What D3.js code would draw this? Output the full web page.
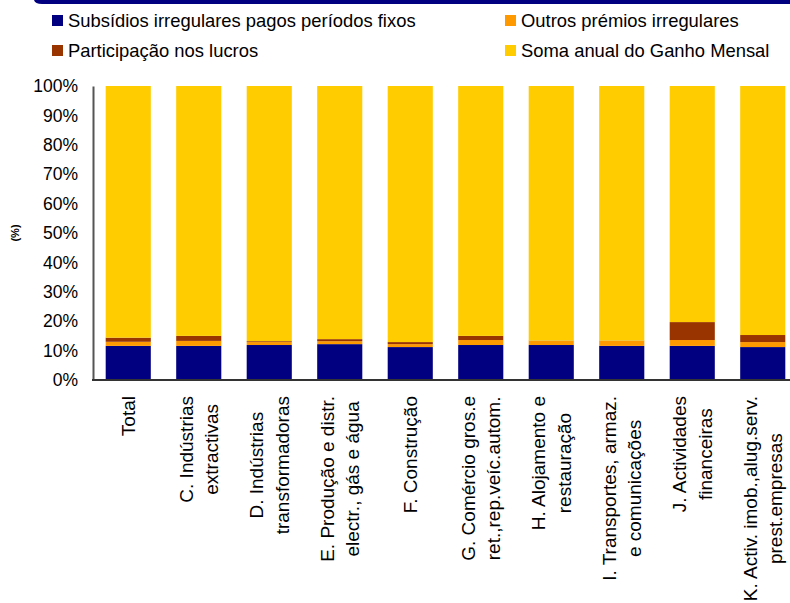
<!DOCTYPE html>
<html>
<head>
<meta charset="utf-8">
<script src="https://cdn.jsdelivr.net/npm/d3@7"></script>
<style>
  html, body { margin: 0; padding: 0; background: #fff; }
  svg { display: block; }
  text { font-family: "Liberation Sans", Arial, sans-serif; fill: #000; }
</style>
</head>
<body>
<svg id="chart" width="790" height="603"></svg>
<script>
// ---- data ----
const categories = [
  "Total",
  "C. Indústrias extractivas",
  "D. Indústrias transformadoras",
  "E. Produção e distr. electr., gás e água",
  "F. Construção",
  "G. Comércio gros.e ret.,rep.veíc.autom.",
  "H. Alojamento e restauração",
  "I. Transportes, armaz. e comunicações",
  "J. Actividades financeiras",
  "K. Activ. imob.,alug.serv. prest.empresas"
];
const categoryLines = [
  ["Total"],
  ["C. Indústrias", "extractivas"],
  ["D. Indústrias", "transformadoras"],
  ["E. Produção e distr.", "electr., gás e água"],
  ["F. Construção"],
  ["G. Comércio gros.e", "ret.,rep.veíc.autom."],
  ["H. Alojamento e", "restauração"],
  ["I. Transportes, armaz.", "e comunicações"],
  ["J. Actividades", "financeiras"],
  ["K. Activ. imob.,alug.serv.", "prest.empresas"]
];
const seriesNames = [
  "Subsídios irregulares pagos períodos fixos",
  "Outros prémios irregulares",
  "Participação nos lucros",
  "Soma anual do Ganho Mensal"
];
const subsidios     = [11.6, 11.6, 11.9, 12.2, 11.2, 11.9, 11.9, 11.6, 11.6, 11.2];
const outros        = [1.4, 1.7, 1.0, 1.0, 1.0, 1.7, 1.4, 1.7, 2.0, 1.7];
const participacao  = [1.4, 1.7, 0.3, 0.7, 0.7, 1.4, 0.1, 0.1, 6.1, 2.4];
const somaAnual     = [85.6, 85.0, 86.8, 86.1, 87.1, 85.0, 86.6, 86.6, 80.3, 84.7];
const yTicks = [0, 10, 20, 30, 40, 50, 60, 70, 80, 90, 100];
const colors = ["#000080", "#FF9900", "#993300", "#FFCC00"];
const FONT = "'Liberation Sans', Arial, sans-serif";

// ---- build table ----
const keys = ["s0", "s1", "s2", "s3"];
const table = categories.map((c, i) => ({
  cat: c, s0: subsidios[i], s1: outros[i], s2: participacao[i], s3: somaAnual[i]
}));
const stacked = d3.stack().keys(keys)(table);

const svg = d3.select("#chart");

// banner
svg.append("path")
  .attr("d", "M34,0 L790,0 L790,4 L42,4 Q35,4 34,0 Z")
  .attr("fill", "#000080");

// scales
const x = d3.scaleBand().domain(categories).range([93, 798]).paddingInner(0.36).paddingOuter(0.18);
const y = d3.scaleLinear().domain([0, 100]).range([380, 86]);

// bars
const g = svg.append("g");
g.selectAll("g.layer").data(stacked).join("g")
  .attr("class", "layer")
  .attr("fill", (d, i) => colors[i])
  .selectAll("rect").data(d => d).join("rect")
  .attr("x", d => x(d.data.cat))
  .attr("width", x.bandwidth())
  .attr("y", d => y(d[1]))
  .attr("height", d => y(d[0]) - y(d[1]));

// y axis
const yAxis = d3.axisLeft(y).tickValues(yTicks).tickSize(0).tickPadding(15)
  .tickFormat(d => d + "%");
const ya = svg.append("g").attr("transform", "translate(93,0)").call(yAxis);
ya.attr("font-family", FONT);
ya.select(".domain").attr("stroke", "#555").attr("stroke-width", 2);
ya.selectAll("text").attr("font-size", 17.5).attr("font-family", FONT).attr("fill", "#000");

// x axis line
const xa = svg.append("g").attr("transform", "translate(0,380)")
  .call(d3.axisBottom(x).tickSize(0).tickFormat(""));
xa.select(".domain").attr("stroke", "#333").attr("stroke-width", 2)
  .attr("d", "M92,0H790");

// category labels
const labelTop = 396;
const lineGap = 25.5;
categoryLines.forEach((lines, i) => {
  const cx = x(categories[i]) + x.bandwidth() / 2;
  const lg = svg.append("g").attr("transform", `translate(${cx},0) rotate(-90)`);
  const n = lines.length;
  const texts = lines.map((ln, j) => lg.append("text")
    .attr("font-size", 19)
    .attr("font-family", FONT)
    .attr("text-anchor", "middle")
    .attr("y", (j - (n - 1) / 2) * lineGap + 6.8)
    .text(ln));
  const maxL = d3.max(texts, t => t.node().getComputedTextLength());
  texts.forEach(t => t.attr("x", -(labelTop + maxL / 2)));
});

// (%) label
svg.append("text")
  .attr("transform", "translate(19,233) rotate(-90)")
  .attr("text-anchor", "middle")
  .attr("font-size", 11)
  .attr("font-weight", "bold")
  .attr("font-family", FONT)
  .text("(%)");

// legend
const legendPos = [[52, 15], [505, 15], [52, 45], [505, 45]];
[0, 1, 2, 3].forEach(k => {
  const [lx, ly] = legendPos[k];
  svg.append("rect").attr("x", lx).attr("y", ly).attr("width", 11).attr("height", 11).attr("fill", colors[k]);
  svg.append("text").attr("x", lx + 16).attr("y", ly + 11.5).attr("font-size", 18.4)
    .attr("font-family", FONT).text(seriesNames[k]);
});
</script>
</body>
</html>
